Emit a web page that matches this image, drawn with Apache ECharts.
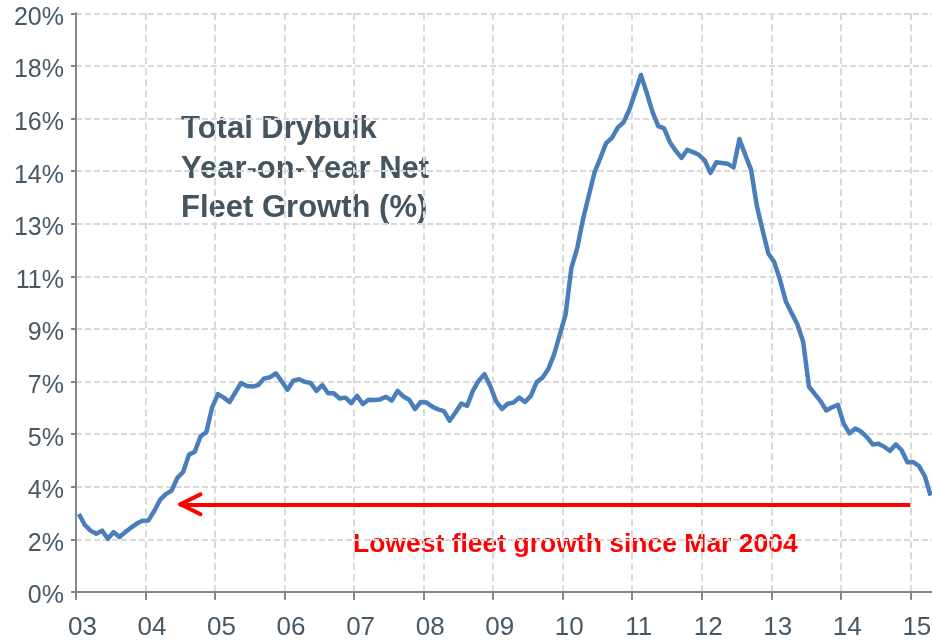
<!DOCTYPE html>
<html>
<head>
<meta charset="utf-8">
<script src="https://cdn.jsdelivr.net/npm/echarts@6/dist/echarts.min.js"></script>
<style>
  html, body { margin: 0; padding: 0; background: #ffffff; overflow: hidden; width: 932px; height: 641px; }
  /* the plot runs on past the right edge of the page, as the axis keeps going */
  #chart { width: 960px; height: 641px; }
</style>
</head>
<body>
<div id="chart"></div>
<script>
// Monthly year-on-year net fleet growth of the drybulk fleet, Jan 2003 - Apr 2015 (%)
const firstYear = 2003;
const lastLabelYear = 2015;
const growthPct = [
  2.67, 2.30, 2.10, 1.99, 2.10, 1.82, 2.05, 1.88, 2.05, 2.20, 2.34, 2.44,   // 2003
  2.45, 2.77, 3.15, 3.35, 3.47, 3.91, 4.11, 4.70, 4.80, 5.33, 5.47, 6.32,   // 2004
  6.77, 6.65, 6.50, 6.83, 7.15, 7.05, 7.03, 7.09, 7.31, 7.35, 7.48, 7.21,   // 2005
  6.92, 7.23, 7.28, 7.19, 7.15, 6.88, 7.08, 6.80, 6.80, 6.62, 6.65, 6.46,   // 2006
  6.71, 6.43, 6.58, 6.57, 6.59, 6.68, 6.55, 6.88, 6.69, 6.58, 6.26, 6.50,   // 2007
  6.48, 6.34, 6.25, 6.19, 5.86, 6.14, 6.45, 6.37, 6.88, 7.23, 7.45, 7.05,   // 2008
  6.53, 6.26, 6.44, 6.48, 6.65, 6.50, 6.71, 7.18, 7.33, 7.62, 8.12, 8.81,   // 2009
  9.50, 11.09, 11.76, 12.75, 13.56, 14.36, 14.85, 15.36, 15.54, 15.89, 16.07, 16.50, // 2010
  17.08, 17.69, 17.08, 16.43, 15.94, 15.86, 15.39, 15.10, 14.85, 15.13, 15.05, 14.96, // 2011
  14.77, 14.34, 14.70, 14.68, 14.65, 14.53, 15.50, 14.96, 14.45, 13.22, 12.38, 11.58, // 2012
  11.29, 10.69, 9.95, 9.55, 9.16, 8.56, 7.03, 6.78, 6.53, 6.21, 6.32, 6.40,   // 2013
  5.76, 5.43, 5.59, 5.49, 5.30, 5.05, 5.07, 4.97, 4.83, 5.05, 4.85, 4.44,     // 2014
  4.44, 4.31, 3.96, 3.30                                                      // 2015
];

// Arrow marking the current growth level back to where it was last seen
const arrowLevel = 3.0;      // %
const arrowTipYear = 2004.5;
const arrowEndYear = 2015.0;
const arrowArmYears = 0.29;
const arrowArmPct = 0.34;

const titleLines = ['Total Drybulk', 'Year-on-Year Net', 'Fleet Growth (%)'];
const noteText = 'Lowest fleet growth since Mar 2004';

// each monthly observation sits at the middle of its month on a decimal-year axis
const seriesData = growthPct.map((v, i) => [firstYear + (i + 0.5) / 12, v]);

const axisGrey = '#868686';
const gridGrey = '#d9d9d9';
const textColor = '#475864';
const lineBlue = '#4a7ebb';

const chart = echarts.init(document.getElementById('chart'), null, { renderer: 'canvas' });

chart.setOption({
  animation: false,
  backgroundColor: '#ffffff',
  grid: { left: 76, top: 13.3, width: 869.1, height: 580, containLabel: false },
  xAxis: {
    type: 'value',
    min: firstYear,
    max: 2015.5,
    interval: 1,
    axisLine: { show: true, lineStyle: { color: axisGrey, width: 2 } },
    axisTick: { show: true, length: 8, lineStyle: { color: axisGrey, width: 2 } },
    splitLine: { show: true, lineStyle: { color: gridGrey, width: 2, type: [7, 4] } },
    axisLabel: {
      color: textColor,
      fontFamily: 'Liberation Sans, Arial, sans-serif',
      fontSize: 26,
      margin: 23,
      padding: [0, 0, 0, 13],
      formatter: v => (Number.isInteger(v) && v <= lastLabelYear) ? String(v % 100).padStart(2, '0') : ''
    }
  },
  yAxis: {
    type: 'value',
    min: 0,
    max: 19.8,
    interval: 1.8,
    axisLine: { show: true, lineStyle: { color: axisGrey, width: 2 } },
    axisTick: { show: true, length: 5, lineStyle: { color: axisGrey, width: 2 } },
    splitLine: { show: true, lineStyle: { color: gridGrey, width: 2, type: [6, 3] } },
    axisLabel: {
      color: textColor,
      fontFamily: 'Liberation Sans, Arial, sans-serif',
      fontSize: 25,
      margin: 12,
      formatter: v => '{v|' + Math.round(v) + '%}',
      rich: {
        v: {
          color: textColor,
          fontFamily: 'Liberation Sans, Arial, sans-serif',
          fontSize: 25,
          padding: [9, 0, 0, 0]
        }
      }
    }
  },
  series: [{
    type: 'line',
    data: seriesData,
    showSymbol: false,
    smooth: false,
    lineStyle: { color: lineBlue, width: 4.5, join: 'round' },
    itemStyle: { color: lineBlue },
    z: 3,
    markLine: {
      silent: true,
      symbol: 'none',
      animation: false,
      label: { show: false },
      emphasis: { disabled: true },
      lineStyle: { color: '#ff0000', width: 4, type: 'solid' },
      data: [
        [{ coord: [arrowTipYear, arrowLevel] }, { coord: [arrowEndYear, arrowLevel] }],
        [{ coord: [arrowTipYear, arrowLevel], lineStyle: { cap: 'round' } },
         { coord: [arrowTipYear + arrowArmYears, arrowLevel + arrowArmPct] }],
        [{ coord: [arrowTipYear, arrowLevel], lineStyle: { cap: 'round' } },
         { coord: [arrowTipYear + arrowArmYears, arrowLevel - arrowArmPct] }]
      ]
    }
  }],
  graphic: [
    {
      type: 'text',
      left: 181,
      top: 110,
      style: {
        text: titleLines.join('\n'),
        fill: '#455560',
        font: 'bold 31px "Liberation Sans", Arial, sans-serif',
        lineHeight: 39.5
      }
    },
    {
      type: 'text',
      left: 353,
      top: 531,
      style: {
        text: noteText,
        fill: '#ff0000',
        font: 'bold 26.5px "Liberation Sans", Arial, sans-serif'
      }
    }
  ]
});
</script>
</body>
</html>
